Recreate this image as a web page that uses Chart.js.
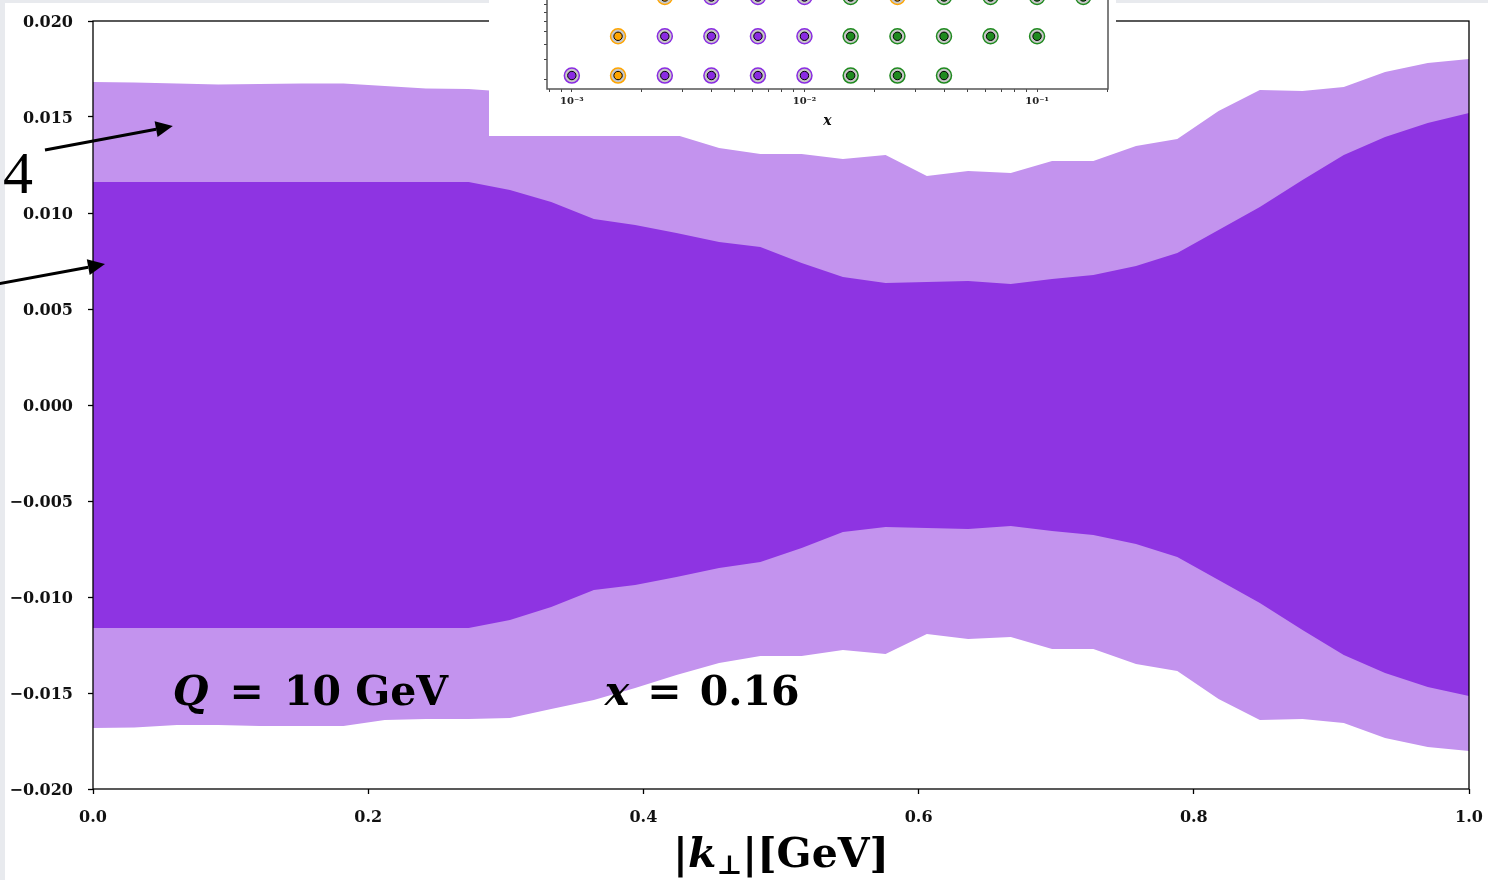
<!DOCTYPE html>
<html>
<head>
<meta charset="utf-8">
<script src="https://cdn.jsdelivr.net/npm/chart.js@4.4.0/dist/chart.umd.min.js"></script>
<style>
    html, body { margin: 0; padding: 0; }
    body { width: 1488px; height: 880px; background: #e8eaee; position: relative; overflow: hidden; }
    #panel { position: absolute; left: 5px; top: 3px; width: 1483px; height: 877px; background: #fff; }
    #mainChart { position: absolute; left: 0; top: 0; }
    #insetBox { position: absolute; left: 489px; top: 0; width: 627px; height: 136px; background: #fff; overflow: hidden; }
    #insetChart { position: absolute; left: 0; top: -200px; }
</style>
</head>
<body>
<div id="panel"></div>
<canvas id="mainChart" width="1488" height="880"></canvas>
<div id="insetBox"><canvas id="insetChart" width="627" height="336"></canvas></div>
<script>
// 主图数据：|k_perp| 网格和两条误差带（上/下边界）
const kperp = [0.000, 0.030, 0.061, 0.091, 0.121, 0.152, 0.182, 0.212, 0.242, 0.273, 0.303, 0.333,
    0.364, 0.394, 0.424, 0.455, 0.485, 0.515, 0.545, 0.576, 0.606, 0.636, 0.667, 0.697,
    0.727, 0.758, 0.788, 0.818, 0.848, 0.879, 0.909, 0.939, 0.970, 1.000];

const outerUpper = [0.01682, 0.01680, 0.01674, 0.01669, 0.01672, 0.01674, 0.01674, 0.01661, 0.01648, 0.01646,
    0.01630, 0.01583, 0.01536, 0.01474, 0.01406, 0.01339, 0.01307, 0.01307, 0.01281, 0.01302,
    0.01193, 0.01219, 0.01208, 0.01271, 0.01271, 0.01349, 0.01385, 0.01531, 0.01641, 0.01635,
    0.01656, 0.01734, 0.01781, 0.01802];
const outerLower = [-0.01682, -0.01680, -0.01667, -0.01667, -0.01672, -0.01672, -0.01672, -0.01641, -0.01635, -0.01635,
    -0.01630, -0.01583, -0.01536, -0.01474, -0.01406, -0.01344, -0.01307, -0.01307, -0.01276, -0.01297,
    -0.01193, -0.01219, -0.01208, -0.01271, -0.01271, -0.01349, -0.01385, -0.01531, -0.01641, -0.01635,
    -0.01656, -0.01734, -0.01781, -0.01802];
const innerUpper = [0.01161, 0.01161, 0.01161, 0.01161, 0.01161, 0.01161, 0.01161, 0.01161, 0.01161, 0.01161,
    0.01120, 0.01057, 0.00969, 0.00938, 0.00896, 0.00849, 0.00823, 0.00740, 0.00667, 0.00635,
    0.00641, 0.00646, 0.00630, 0.00656, 0.00677, 0.00724, 0.00792, 0.00911, 0.01031, 0.01172,
    0.01302, 0.01396, 0.01469, 0.01521];
const innerLower = [-0.01161, -0.01161, -0.01161, -0.01161, -0.01161, -0.01161, -0.01161, -0.01161, -0.01161, -0.01161,
    -0.01120, -0.01052, -0.00964, -0.00938, -0.00896, -0.00849, -0.00818, -0.00745, -0.00661, -0.00635,
    -0.00641, -0.00646, -0.00630, -0.00656, -0.00677, -0.00724, -0.00792, -0.00911, -0.01031, -0.01172,
    -0.01302, -0.01396, -0.01469, -0.01516];

const xTicks = [0.0, 0.2, 0.4, 0.6, 0.8, 1.0];
const yTicks = [-0.020, -0.015, -0.010, -0.005, 0.000, 0.005, 0.010, 0.015, 0.020];

// 小图数据：x 网格点（按 Q 行），颜色代码 p=紫 o=橙 g=绿
const rowLowQ = 3.16;
const rowLowX = [0.001, 0.00158, 0.00251, 0.00398, 0.00631, 0.01, 0.0158, 0.0251, 0.0398];
const rowLowC = ['p', 'o', 'p', 'p', 'p', 'p', 'g', 'g', 'g'];
const rowMidQ = 5.62;
const rowMidX = [0.00158, 0.00251, 0.00398, 0.00631, 0.01, 0.0158, 0.0251, 0.0398, 0.0631, 0.1];
const rowMidC = ['o', 'p', 'p', 'p', 'p', 'g', 'g', 'g', 'g', 'g'];
const rowTopQ = 10.0;
const rowTopX = [0.00251, 0.00398, 0.00631, 0.01, 0.0158, 0.0251, 0.0398, 0.0631, 0.1, 0.158];
const rowTopC = ['o', 'p', 'p', 'p', 'g', 'o', 'g', 'g', 'g', 'g'];

const insetXTicks = [0.0008, 0.0009, 0.001, 0.002, 0.003, 0.004, 0.005, 0.006, 0.007, 0.008, 0.009,
    0.01, 0.02, 0.03, 0.04, 0.05, 0.06, 0.07, 0.08, 0.09, 0.1, 0.2];
const insetXMajor = [0.001, 0.01, 0.1];
const insetXLabels = ['10\u207B\u00B3', '10\u207B\u00B2', '10\u207B\u00B9'];
const insetYTicks = [3, 4, 5, 6, 7, 8, 9, 10, 20, 30, 40, 50, 60, 70, 80, 90, 100];

const darkPurple = '#8e34e2';
const lightPurple = '#c393ee';
const markerColors = { p: '#8a2be2', o: '#ffa500', g: '#1f8a1f' };

const serif = '"DejaVu Serif", "Liberation Serif", serif';

function fmtY(v) {
    const s = Math.abs(v).toFixed(3);
    return v < -1e-9 ? '\u2212' + s : s;
}

// 去掉刻度标签带来的额外边距，让绘图区位置固定
function noPad(s) {
    s.paddingLeft = 0;
    s.paddingRight = 0;
    s.paddingTop = 0;
    s.paddingBottom = 0;
}

// 按段绘制混排文本（正体/斜体/下标），gap 为段前额外间距
function drawRuns(ctx, x, y, runs, align) {
    let total = 0;
    runs.forEach(r => { ctx.font = r.font; total += ctx.measureText(r.t).width + (r.gap || 0); });
    let cx = align === 'center' ? x - total / 2 : x;
    ctx.textAlign = 'left';
    ctx.textBaseline = 'alphabetic';
    runs.forEach(r => {
        cx += r.gap || 0;
        ctx.font = r.font;
        ctx.fillText(r.t, cx, y + (r.dy || 0));
        cx += ctx.measureText(r.t).width;
    });
}

function drawArrow(ctx, x0, y0, x1, y1) {
    const ang = Math.atan2(y1 - y0, x1 - x0);
    const headLen = 17, headHalf = 8;
    const bx = x1 - headLen * Math.cos(ang), by = y1 - headLen * Math.sin(ang);
    ctx.strokeStyle = '#000';
    ctx.fillStyle = '#000';
    ctx.lineWidth = 3;
    ctx.beginPath();
    ctx.moveTo(x0, y0);
    ctx.lineTo(bx, by);
    ctx.stroke();
    ctx.beginPath();
    ctx.moveTo(x1, y1);
    ctx.lineTo(bx + headHalf * Math.sin(ang), by - headHalf * Math.cos(ang));
    ctx.lineTo(bx - headHalf * Math.sin(ang), by + headHalf * Math.cos(ang));
    ctx.closePath();
    ctx.fill();
}

// 主图边框、注释和坐标轴标题
const mainDecor = {
    id: 'mainDecor',
    afterDatasetsDraw(chart) {
        const ctx = chart.ctx;
        const a = chart.chartArea;
        const xs = chart.scales.x, ys = chart.scales.y;
        ctx.save();
        ctx.strokeStyle = '#000';
        ctx.lineWidth = 1.3;
        ctx.strokeRect(a.left, a.top, a.right - a.left, a.bottom - a.top);

        ctx.fillStyle = '#000';
        const big = 'bold 41px ' + serif;
        const bigIt = 'italic bold 41px ' + serif;
        drawRuns(ctx, xs.getPixelForValue(0.058), ys.getPixelForValue(-0.01563), [
            { t: 'Q', font: bigIt },
            { t: '=', font: big, gap: 21 },
            { t: '10 GeV', font: big, gap: 20 }
        ]);
        drawRuns(ctx, xs.getPixelForValue(0.372), ys.getPixelForValue(-0.01563), [
            { t: 'x', font: bigIt },
            { t: '=', font: big, gap: 18 },
            { t: '0.16', font: big, gap: 18 }
        ]);

        // 左侧箭头和数字
        drawArrow(ctx, xs.getPixelForValue(-0.0349), ys.getPixelForValue(0.01328),
            xs.getPixelForValue(0.058), ys.getPixelForValue(0.01453));
        drawArrow(ctx, xs.getPixelForValue(-0.0700), ys.getPixelForValue(0.00630),
            xs.getPixelForValue(0.0087), ys.getPixelForValue(0.00734));
        ctx.fillStyle = '#000';
        ctx.font = '60px "Liberation Serif", serif';
        ctx.textAlign = 'left';
        ctx.fillText('4', xs.getPixelForValue(-0.0654), ys.getPixelForValue(0.01104));

        // x 轴标题 |k⊥|[GeV]
        const tf = 'bold 41px ' + serif;
        drawRuns(ctx, (a.left + a.right) / 2, 867, [
            { t: '|', font: tf },
            { t: 'k', font: 'italic bold 41px ' + serif },
            { t: '\u22A5', font: 'bold 27px ' + serif, dy: 7 },
            { t: '|[GeV]', font: tf }
        ], 'center');
        ctx.restore();
    }
};

function pts(arr) {
    return kperp.map((k, i) => ({ x: k, y: arr[i] }));
}

function band(arr, fill, color) {
    return {
        data: pts(arr),
        fill: fill,
        backgroundColor: color,
        borderColor: 'rgba(0,0,0,0)',
        borderWidth: 0,
        pointRadius: 0,
        tension: 0
    };
}

const mainChart = new Chart(document.getElementById('mainChart').getContext('2d'), {
    type: 'line',
    data: {
        datasets: [
            band(innerUpper, '+1', darkPurple),
            band(innerLower, false, darkPurple),
            band(outerUpper, '+1', lightPurple),
            band(outerLower, false, lightPurple)
        ]
    },
    options: {
        responsive: false,
        animation: false,
        layout: { autoPadding: false, padding: { left: 0, right: 19, top: 21, bottom: 0 } },
        plugins: { legend: { display: false }, tooltip: { enabled: false } },
        scales: {
            x: {
                type: 'linear',
                min: 0,
                max: 1,
                afterBuildTicks: s => { s.ticks = xTicks.map(v => ({ value: v })); },
                afterFit: s => { s.height = 91; noPad(s); },
                border: { display: false },
                grid: { drawOnChartArea: false, drawTicks: true, tickLength: 5, tickColor: '#000', tickWidth: 1.3 },
                ticks: {
                    padding: 14,
                    color: '#111',
                    font: { family: serif, weight: 'bold', size: 16 },
                    maxRotation: 0,
                    callback: v => v.toFixed(1)
                }
            },
            y: {
                type: 'linear',
                min: -0.02,
                max: 0.02,
                afterBuildTicks: s => { s.ticks = yTicks.map(v => ({ value: v })); },
                afterFit: s => { s.width = 93; noPad(s); },
                border: { display: false },
                grid: { drawOnChartArea: false, drawTicks: true, tickLength: 5, tickColor: '#000', tickWidth: 1.3 },
                ticks: {
                    padding: 15,
                    labelOffset: 2,
                    color: '#111',
                    font: { family: serif, weight: 'bold', size: 16 },
                    callback: v => fmtY(v)
                }
            }
        }
    },
    plugins: [mainDecor]
});

// 小图：散点网格
function rowPoints(xs, q) {
    return xs.map(x => ({ x: x, y: q }));
}
const insetPts = [].concat(rowPoints(rowLowX, rowLowQ), rowPoints(rowMidX, rowMidQ), rowPoints(rowTopX, rowTopQ));
const insetCols = [].concat(rowLowC, rowMidC, rowTopC).map(c => markerColors[c]);

const insetFrame = {
    id: 'insetFrame',
    afterDatasetsDraw(chart) {
        const a = chart.chartArea;
        const ctx = chart.ctx;
        ctx.save();
        ctx.strokeStyle = '#555';
        ctx.lineWidth = 1.5;
        ctx.strokeRect(a.left, a.top, a.right - a.left, a.bottom - a.top);
        ctx.restore();
    }
};

const insetChart = new Chart(document.getElementById('insetChart').getContext('2d'), {
    type: 'scatter',
    data: {
        datasets: [
            {
                data: insetPts,
                pointRadius: 4.2,
                pointBackgroundColor: insetCols,
                pointBorderColor: '#000',
                pointBorderWidth: 1,
                clip: false
            },
            {
                data: insetPts,
                pointRadius: 7.5,
                pointBackgroundColor: '#c8c8c8',
                pointBorderColor: insetCols,
                pointBorderWidth: 1.5,
                clip: false
            }
        ]
    },
    options: {
        responsive: false,
        animation: false,
        layout: { autoPadding: false, padding: { left: 0, right: 8, top: 40, bottom: 0 } },
        plugins: { legend: { display: false }, tooltip: { enabled: false } },
        scales: {
            x: {
                type: 'logarithmic',
                min: 0.000782,
                max: 0.2018,
                afterBuildTicks: s => { s.ticks = insetXTicks.map(v => ({ value: v })); },
                afterFit: s => { s.height = 47; noPad(s); },
                border: { display: false },
                grid: { drawOnChartArea: false, drawTicks: true, tickLength: 3, tickColor: '#444', tickWidth: 1 },
                ticks: {
                    padding: 3,
                    color: '#222',
                    autoSkip: false,
                    maxRotation: 0,
                    font: { family: serif, weight: 'bold', size: 10 },
                    callback: v => {
                        const i = insetXMajor.findIndex(m => Math.abs(m - v) < m * 1e-6);
                        return i >= 0 ? insetXLabels[i] : '';
                    }
                },
                title: {
                    display: true,
                    text: 'x',
                    color: '#111',
                    padding: { top: 0, bottom: 6 },
                    font: { family: serif, weight: 'bold', style: 'italic', size: 14 }
                }
            },
            y: {
                type: 'logarithmic',
                min: 2.594,
                max: 100,
                afterBuildTicks: s => { s.ticks = insetYTicks.map(v => ({ value: v })); },
                afterFit: s => { s.width = 58; noPad(s); },
                border: { display: false },
                grid: { drawOnChartArea: false, drawTicks: true, tickLength: 3, tickColor: '#444', tickWidth: 1 },
                ticks: {
                    padding: 14,
                    color: '#222',
                    autoSkip: false,
                    font: { family: serif, weight: 'bold', size: 10 },
                    callback: v => (v === 10 ? '10\u00B9' : '')
                }
            }
        }
    },
    plugins: [insetFrame]
});
</script>
</body>
</html>
